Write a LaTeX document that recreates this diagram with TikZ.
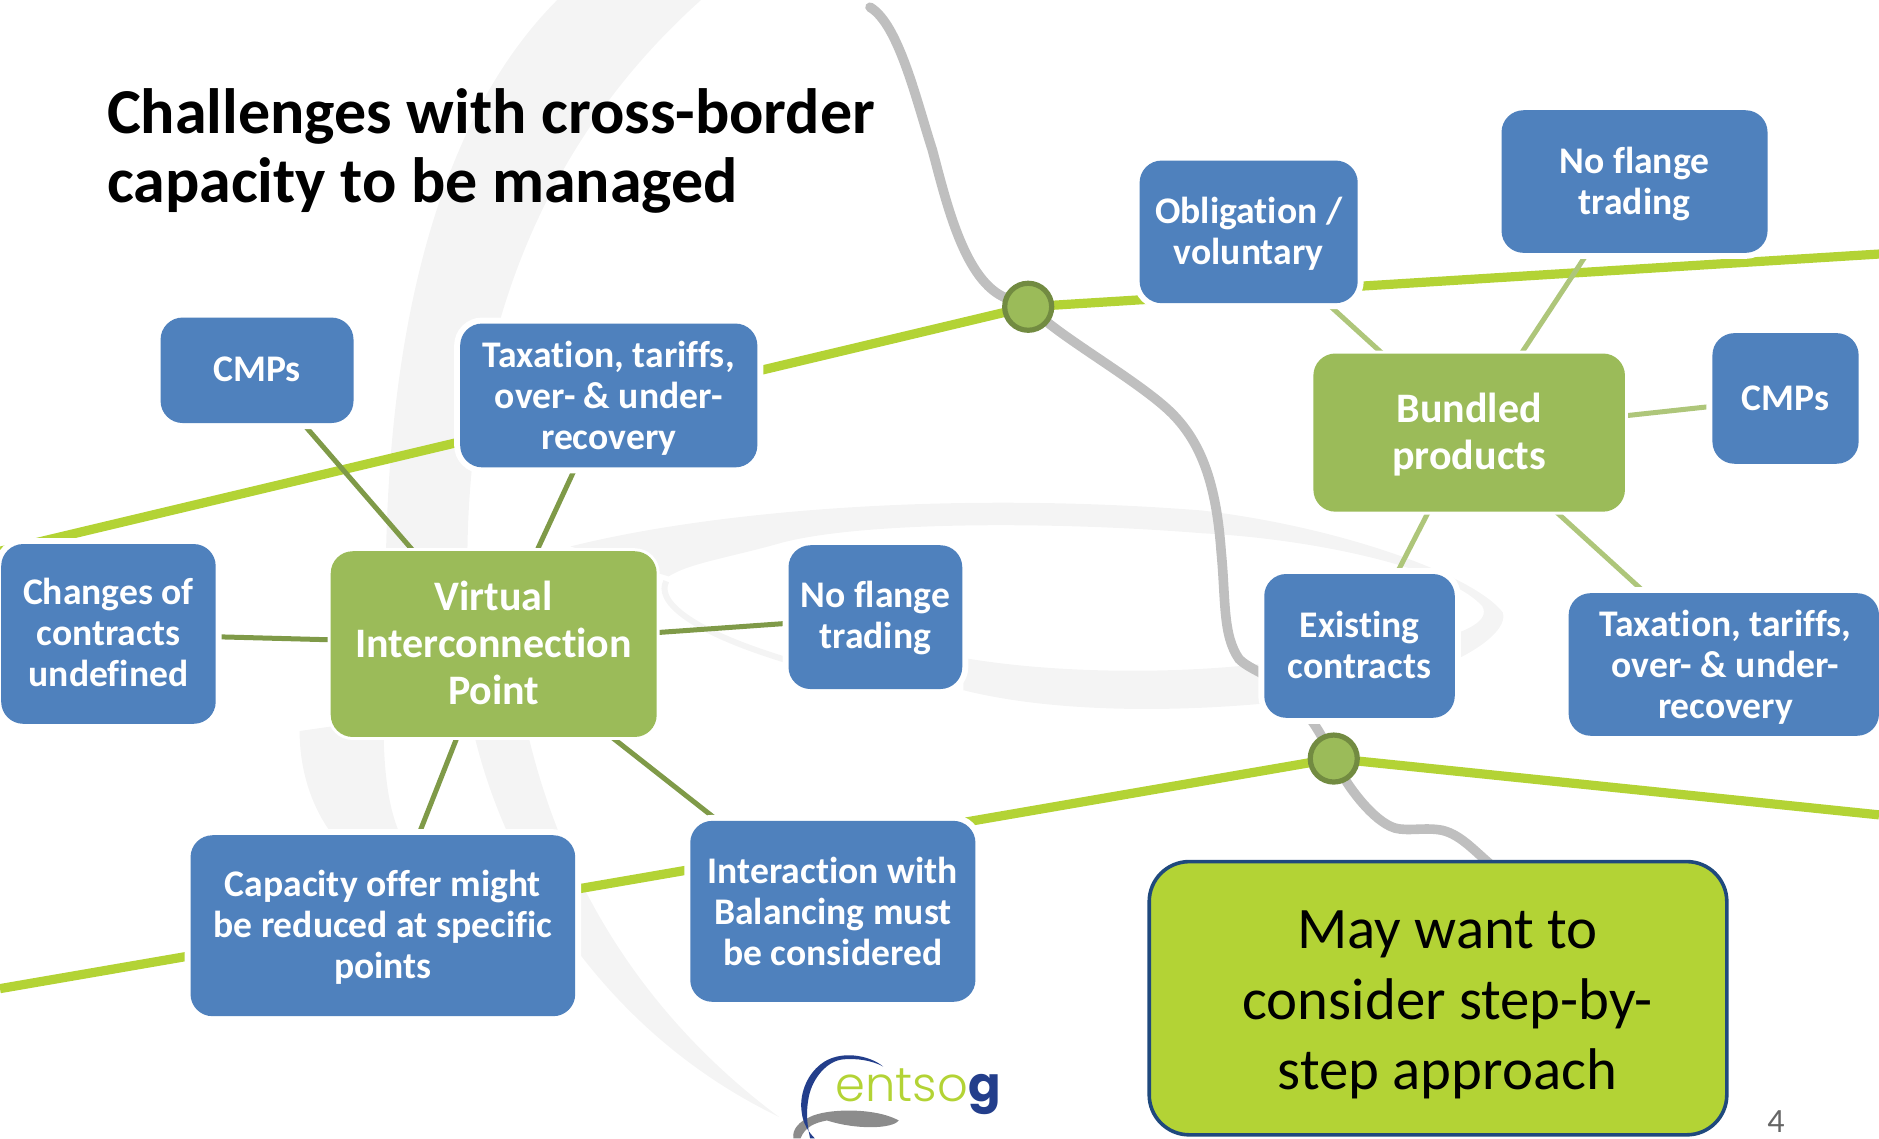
\documentclass[tikz,border=0pt]{standalone}
\usepackage{fontspec}
\setmainfont[Ligatures=NoCommon]{Carlito}
\newfontfamily\logolight{Poppins Light}
\newfontfamily\logobold{Poppins}
\usetikzlibrary{shapes.geometric}
\pgfdeclarelayer{marks}
\pgfdeclarelayer{links}
\pgfsetlayers{marks,links,main}
\definecolor{boxblue}{HTML}{4F81BD}
\definecolor{boxgreen}{HTML}{9BBB59}
\definecolor{mainline}{HTML}{B3D335}
\definecolor{branchdark}{HTML}{7F9A48}
\definecolor{branchlight}{HTML}{AEC67A}
\definecolor{graycurve}{HTML}{BFBFBF}
\definecolor{wm}{HTML}{F4F4F4}
\definecolor{calloutedge}{HTML}{1F497D}
\definecolor{logoblue}{HTML}{233E8B}
\tikzset{
  x=0.5991pt,y=-0.5991pt,
  blockbase/.style={inner sep=0pt,outer sep=0pt,rounded corners=11pt,text=white},
  bluebox/.style={blockbase,fill=boxblue,preaction={draw=white,line width=6pt},font=\def\lskip{20.5pt}\bfseries\fontsize{18.8}{20.5}\selectfont},
  greenbox/.style={blockbase,fill=boxgreen,preaction={draw=white,line width=3pt},font=\def\lskip{23.4pt}\bfseries\fontsize{21}{23.4}\selectfont},
  calloutbox/.style={inner sep=0pt,outer sep=0pt,rounded corners=20pt,fill=mainline,draw=calloutedge,line width=1.8pt,text=black,font=\def\lskip{35.2pt}\fontsize{29.4}{35.2}\selectfont},
  junction/.style={circle,inner sep=0pt,outer sep=0pt,minimum size=23.5pt,fill=boxgreen,draw=branchdark!90!black,line width=2.6pt},
  mainbranch/.style={draw=mainline,line width=4.6pt},
  darkbranch/.style={draw=branchdark,line width=2.5pt},
  lightbranch/.style={draw=branchlight,line width=2.5pt},
  curveline/.style={draw=graycurve,line width=4.8pt},
  watermark/.style={fill=wm,draw=none},
}
% style, name, x1, y1, x2, y2, text shift x, text shift y (down), text
\newcommand{\blocknode}[9]{%
  \pgfmathsetlengthmacro{\txtdy}{-2.5-(#8)*0.5991}%
  \pgfmathsetlengthmacro{\txtdx}{2*(#7)*0.5991}%
  \node[#1,minimum width={(#5-#3)*0.5991pt},minimum height={(#6-#4)*0.5991pt}] (#2) at ({(#3+#5)/2},{(#4+#6)/2})
    {\raisebox{\txtdy}[0pt][0pt]{\makebox[0pt]{\hspace*{\txtdx}\parbox{500pt}{\centering\baselineskip=\lskip\relax #9}}}};}
\begin{document}
\begin{tikzpicture}
\path[use as bounding box] (0,0) rectangle (1568,950);
% watermark
\begin{pgfonlayer}{marks}
\path[watermark] (465,0) .. controls (375,90) and (325,250) .. (322,470) -- (390,470) .. controls (390,300) and (440,130) .. (585,0) -- cycle;
\path[watermark] (250,610) .. controls (250,650) and (265,690) .. (295,715) -- (345,715) .. controls (325,690) and (320,650) .. (320,600) -- cycle;
\path[watermark] (395,610) .. controls (420,720) and (500,860) .. (650,932) .. controls (540,850) and (470,740) .. (440,610) -- cycle;
\path[watermark] (476,456) .. controls (600,425) and (800,410) .. (1003,426) .. controls (1120,440) and (1230,480) .. (1254,511) .. controls (1262,535) and (1180,580) .. (1056,587) .. controls (980,594) and (880,595) .. (804,576) -- (804,549) .. controls (880,562) and (980,563) .. (1061,553) .. controls (1160,545) and (1250,530) .. (1237,506) .. controls (1210,475) and (1100,450) .. (1003,445) .. controls (880,435) and (720,435) .. (652,453) .. controls (610,465) and (575,470) .. (558,481) -- cycle;
\draw[wm,line width=3pt] (556,485) .. controls (548,500) and (570,525) .. (660,552);
\end{pgfonlayer}
% named ends
\coordinate (ml1) at (0,460);
\coordinate (mr1) at (1568,212);
\coordinate (ml2) at (0,825);
\coordinate (mr2) at (1568,680);
\coordinate (gtop) at (726,6);
\coordinate (gmid) at (1060,566);
\coordinate (gend) at (1247,724);
% blocks
\blocknode{calloutbox}{may}{959}{719}{1441}{947}{8}{12}{May want to\\consider step-by-\\step approach}
\node[junction] (j1) at (858,256) {};
\node[junction] (j2) at (1113,633) {};
\blocknode{bluebox}{cmpl}{134}{265}{295}{353}{0}{2}{CMPs}
\blocknode{bluebox}{taxl}{384}{270}{632}{390}{0}{5}{Taxation, tariffs,\\over- \& under-\\recovery}
\blocknode{bluebox}{chg}{1}{454}{180}{604}{0}{1.5}{Changes of\\contracts\\undefined}
\blocknode{bluebox}{nfl}{658}{455}{803}{575}{0}{4}{No flange\\trading}
\blocknode{bluebox}{cap}{159}{697}{480}{848}{0}{4}{Capacity offer might\\be reduced at specific\\points}
\blocknode{bluebox}{int}{576}{685}{814}{836}{0}{3}{Interaction with\\Balancing must\\be considered}
\blocknode{bluebox}{obl}{951}{134}{1133}{253}{0}{5}{Obligation /\\voluntary}
\blocknode{bluebox}{nfr}{1253}{92}{1475}{211}{0}{5}{No flange\\trading}
\blocknode{bluebox}{cmpr}{1429}{278}{1551}{387}{0}{3}{CMPs}
\blocknode{bluebox}{ext}{1055}{479}{1214}{599}{0}{2}{Existing\\contracts}
\blocknode{bluebox}{taxr}{1309}{495}{1568}{614}{1.5}{5}{Taxation, tariffs,\\over- \& under-\\recovery}
\blocknode{greenbox}{vip}{276}{460}{548}{615}{0}{3.5}{Virtual\\Interconnection\\Point}
\blocknode{greenbox}{bun}{1096}{295}{1356}{427}{0}{6}{Bundled\\products}
% connectors, under the blocks
\begin{pgfonlayer}{links}
\draw[mainbranch] (ml1) -- (j1) -- (mr1);
\draw[mainbranch] (ml2) -- (j2) -- (mr2);
\draw[curveline,line cap=round] (gtop) .. controls (750,20) and (765,85) .. (778,125) .. controls (790,170) and (805,235) .. (j1);
\draw[curveline] (j1) .. controls (900,290) and (955,322) .. (978,345) .. controls (1003,370) and (1015,405) .. (1019,460) .. controls (1023,500) and (1020,530) .. (1034,550) .. controls (1040,556) and (1050,560) .. (gmid);
\draw[curveline] (gmid) .. controls (1080,580) and (1095,600) .. (j2);
\draw[curveline] (j2) .. controls (1125,655) and (1145,685) .. (1164,691) .. controls (1175,694) and (1190,690) .. (1204,693) .. controls (1220,697) and (1232,712) .. (gend);
\foreach \t in {cmpl,taxl,chg,nfl,cap,int}{\draw[darkbranch] (vip) -- (\t);}
\foreach \t in {obl,nfr,cmpr,ext,taxr}{\draw[lightbranch] (bun) -- (\t);}
\end{pgfonlayer}
\node[anchor=west,align=left,inner sep=0pt,font=\bfseries\fontsize{32}{34.7}\selectfont] (title) at (89,126) {Challenges with cross-border\\capacity to be managed};
\node[font=\fontsize{17}{20}\selectfont,text=black!60,inner sep=0pt] (pg) at (1482,936) {4};
% logo
\node[inner sep=0pt,anchor=base west,font=\fontsize{24}{24}\selectfont,text=mainline] (logo) at (697,919.5) {\logolight entso\logobold\bfseries\textcolor{logoblue}{g}};
\path[fill=black!45] (676,932) .. controls (690,925) and (730,924) .. (750,935) .. controls (745,942) and (715,943) .. (690,935) .. controls (680,937) and (672,940) .. (668,950) -- (662,950) .. controls (661,942) and (667,936) .. (676,932) -- cycle;
\path[fill=logoblue] (737,890) .. controls (725,880) and (700,876) .. (685,888) .. controls (672,898) and (667,915) .. (669,928) .. controls (670,938) and (675,945) .. (680,950) -- (676,950) .. controls (674,940) and (672,930) .. (675,915) .. controls (678,900) and (690,885) .. (704,884) .. controls (715,883) and (728,885) .. (737,890) -- cycle;
\end{tikzpicture}
\end{document}
